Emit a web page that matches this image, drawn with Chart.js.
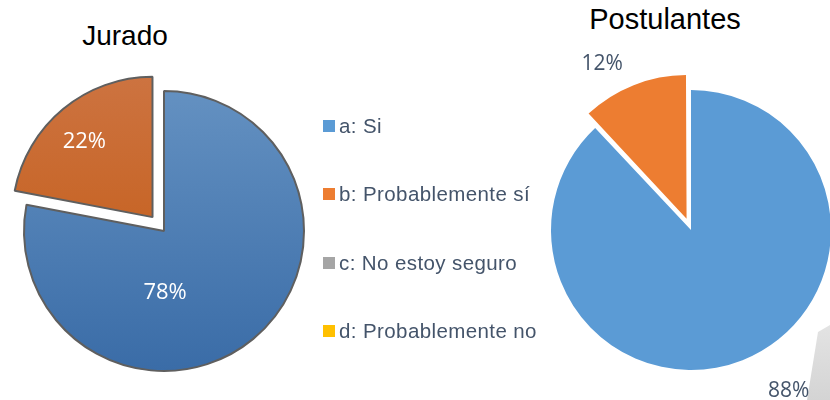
<!DOCTYPE html>
<html>
<head>
<meta charset="utf-8">
<script src="https://cdn.jsdelivr.net/npm/chart.js@4"></script>
<style>
  html, body { margin: 0; padding: 0; }
  body { width: 830px; height: 400px; overflow: hidden; position: relative; background: #fff; font-family: "Liberation Sans", Arial, sans-serif; }
  .box { position: absolute; width: 400px; height: 400px; }
  .title { position: absolute; color: #000; font-size: 28px; transform: translateX(-50%); white-space: nowrap; line-height: 1; }
  #legend { position: absolute; left: 323px; top: 0; z-index: 2; }
  .item { position: absolute; left: 0; white-space: nowrap; color: #44546a; font-size: 20.5px; letter-spacing: 0.4px; line-height: 1; }
  .item span { display: inline-block; width: 12px; height: 12px; margin-right: 4px; vertical-align: 1px; }
  #shape { position: absolute; left: 800px; top: 320px; width: 30px; height: 80px; background: linear-gradient(#e4e4e4, #d4d4d4);
           clip-path: polygon(18px 12px, 30px 5px, 30px 80px, 7px 80px); }
</style>
</head>
<body>
<div class="title" style="left:125px; top:22px;">Jurado</div>
<div class="title" style="left:665px; top:5px; font-size:29px;">Postulantes</div>
<div id="legend"></div>
<div id="shape"></div>
<div class="box" style="left:-36px; top:31px;"><canvas id="jurado"></canvas></div>
<div class="box" style="left:491px; top:30px;"><canvas id="postulantes"></canvas></div>
<script>
const categories = ['a: Si', 'b: Probablemente sí', 'c: No estoy seguro', 'd: Probablemente no'];
const juradoValues = [78, 22, 0, 0];
const postulantesValues = [88, 12, 0, 0];
const colors = ['#5b9bd5', '#ed7d31', '#a5a5a5', '#ffc000'];

// label placement: [angle in degrees, distance from centre in px]
const juradoLabelPos = [[89, 62], [228.4, 120], null, null];
const postulantesLabelPos = [[58.7, 188], [241.8, 188], null, null];

// legend
const legend = document.getElementById('legend');
const legendTops = [116, 184, 253, 321];
categories.forEach((c, i) => {
  const div = document.createElement('div');
  div.className = 'item';
  div.style.top = legendTops[i] + 'px';
  div.innerHTML = '<span style="background:' + colors[i] + '"></span>' + c;
  legend.appendChild(div);
});

const pctLabels = {
  id: 'pctLabels',
  afterDatasetsDraw(chart, args, opts) {
    const ctx = chart.ctx;
    const arc0 = chart.getDatasetMeta(0).data[0];
    const data = chart.data.datasets[0].data;
    ctx.save();
    ctx.font = opts.font;
    ctx.fillStyle = opts.color;
    ctx.textAlign = 'center';
    ctx.textBaseline = 'middle';
    data.forEach((v, i) => {
      const p = opts.pos[i];
      if (!v || !p) return;
      const a = p[0] * Math.PI / 180;
      ctx.fillText(v + '%', arc0.x + Math.cos(a) * p[1], arc0.y + Math.sin(a) * p[1]);
    });
    ctx.restore();
  }
};

function gradFill(base) {
  return function (c) {
    const chart = c.chart;
    if (!chart.chartArea) return base[0];
    const cy = (chart.chartArea.top + chart.chartArea.bottom) / 2;
    const g = chart.ctx.createLinearGradient(0, cy - 150, 0, cy + 140);
    g.addColorStop(0, base[0]);
    g.addColorStop(1, base[1]);
    return g;
  };
}

const juradoGrad = [['#6592c2', '#3a6ca7'], ['#cd7442', '#c2580f'], ['#b0b0b0', '#909090'], ['#ffd040', '#e0a800']];

// chart.js v4 moves an arc by offset / 4
new Chart(document.getElementById('jurado'), {
  type: 'pie',
  data: {
    labels: categories,
    datasets: [{
      data: juradoValues,
      radius: 140,
      backgroundColor: c => gradFill(juradoGrad[c.dataIndex])(c),
      borderColor: '#5f5f5f',
      borderWidth: c => juradoValues[c.dataIndex] > 0 ? 2 : 0,
      offset: [0, 72, 0, 0]
    }]
  },
  options: {
    responsive: true,
    maintainAspectRatio: false,
    animation: false,
    events: [],
    plugins: {
      legend: { display: false },
      tooltip: { enabled: false },
      pctLabels: { pos: juradoLabelPos, color: '#ffffff', font: '22px "Open Sans", sans-serif' }
    }
  },
  plugins: [pctLabels]
});

new Chart(document.getElementById('postulantes'), {
  type: 'pie',
  data: {
    labels: categories,
    datasets: [{
      data: postulantesValues,
      radius: 140,
      backgroundColor: colors,
      borderWidth: 0,
      offset: [0, 48, 0, 0]
    }]
  },
  options: {
    responsive: true,
    maintainAspectRatio: false,
    animation: false,
    events: [],
    plugins: {
      legend: { display: false },
      tooltip: { enabled: false },
      pctLabels: { pos: postulantesLabelPos, color: '#44546a', font: '21px "Open Sans", sans-serif' }
    }
  },
  plugins: [pctLabels]
});
</script>
</body>
</html>
